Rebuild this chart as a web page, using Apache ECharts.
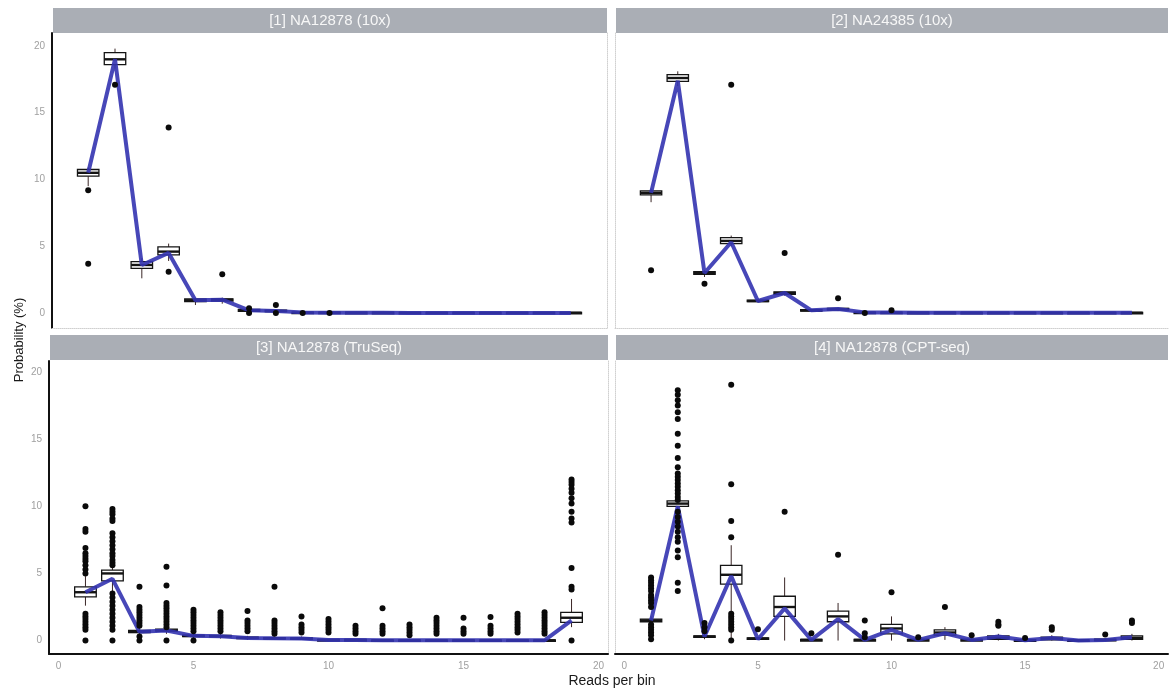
<!DOCTYPE html>
<html>
<head>
<meta charset="utf-8">
<script src="https://cdn.jsdelivr.net/npm/echarts@6/dist/echarts.min.js"></script>
<style>
  html, body { margin: 0; padding: 0; background: #fff; }
  #chart { width: 1170px; height: 691px; }
</style>
</head>
<body>
<div id="chart"></div>
<script>
// reads per bin (x positions of the boxes)
const bins = [1, 2, 3, 4, 5, 6, 7, 8, 9, 10, 11, 12, 13, 14, 15, 16, 17, 18, 19];
const xTicks = [0, 5, 10, 15, 20];
const yTicks = [0, 5, 10, 15, 20];
const panelTitles = ['[1] NA12878 (10x)', '[2] NA24385 (10x)', '[3] NA12878 (TruSeq)', '[4] NA12878 (CPT-seq)'];

// boxes: [min, q1, median, q3, max] per bin
const box1 = [
  [9.5, 10.25, 10.5, 10.75, 10.9], [18.3, 18.6, 19.0, 19.5, 19.8], [2.6, 3.35, 3.6, 3.85, 4.1],
  [3.9, 4.35, 4.6, 4.95, 5.2], [0.6, 0.85, 0.95, 1.05, 1.1], [0.7, 0.9, 1.0, 1.05, 1.15],
  [0.05, 0.12, 0.2, 0.28, 0.35], [0.05, 0.1, 0.15, 0.22, 0.3], [0, 0, 0.03, 0.07, 0.1],
  [0, 0, 0.03, 0.07, 0.1], [0, 0, 0.02, 0.06, 0.1], [0, 0, 0.02, 0.06, 0.1], [0, 0, 0.02, 0.05, 0.08],
  [0, 0, 0.02, 0.05, 0.08], [0, 0, 0.02, 0.05, 0.08], [0, 0, 0.02, 0.05, 0.08], [0, 0, 0.02, 0.05, 0.08],
  [0, 0, 0.02, 0.05, 0.08], [0, 0, 0.02, 0.05, 0.08]
];
const line1 = [10.5, 19.0, 3.6, 4.5, 0.95, 1.0, 0.2, 0.15, 0.05, 0.03, 0.02, 0.02, 0.01, 0.01, 0.01, 0, 0, 0, 0];
const out1 = [[1, 9.2], [1, 3.7], [2, 17.1], [4, 13.9], [4, 3.1], [6, 2.9], [7, 0.35], [7, 0], [8, 0.6], [8, 0], [9, 0], [10, 0]];

const box2 = [
  [8.3, 8.85, 9.0, 9.15, 9.3], [17.0, 17.35, 17.6, 17.85, 18.1], [2.7, 2.9, 3.0, 3.1, 3.2],
  [5.0, 5.2, 5.4, 5.65, 5.8], [0.8, 0.85, 0.9, 0.97, 1.0], [1.3, 1.4, 1.5, 1.58, 1.65],
  [0.1, 0.15, 0.2, 0.25, 0.3], [0.15, 0.22, 0.3, 0.35, 0.4], [0, 0, 0.03, 0.07, 0.1],
  [0, 0, 0.03, 0.07, 0.1], [0, 0, 0.02, 0.06, 0.1], [0, 0, 0.02, 0.06, 0.1], [0, 0, 0.02, 0.05, 0.08],
  [0, 0, 0.02, 0.05, 0.08], [0, 0, 0.02, 0.05, 0.08], [0, 0, 0.02, 0.05, 0.08], [0, 0, 0.02, 0.05, 0.08],
  [0, 0, 0.02, 0.05, 0.08], [0, 0, 0.02, 0.05, 0.08]
];
const line2 = [9.0, 17.4, 3.0, 5.3, 0.9, 1.5, 0.2, 0.3, 0.05, 0.05, 0.03, 0.03, 0.02, 0.02, 0.02, 0.02, 0.02, 0.02, 0.02];
const out2 = [[1, 3.2], [3, 2.2], [4, 17.1], [6, 4.5], [8, 1.1], [9, 0], [10, 0.2]];

const box3 = [
  [2.6, 3.26, 3.6, 4.0, 4.8], [3.6, 4.45, 5.0, 5.25, 5.5], [0.4, 0.6, 0.65, 0.75, 1.0],
  [0.5, 0.7, 0.75, 0.85, 1.0], [0.15, 0.3, 0.35, 0.4, 0.5], [0.15, 0.28, 0.33, 0.38, 0.5],
  [0.05, 0.15, 0.2, 0.25, 0.35], [0.05, 0.12, 0.17, 0.22, 0.3], [0.05, 0.1, 0.15, 0.2, 0.3],
  [0, 0.02, 0.05, 0.08, 0.12], [0, 0.02, 0.05, 0.08, 0.12], [0, 0, 0.02, 0.05, 0.08],
  [0, 0, 0.02, 0.05, 0.08], [0, 0, 0.02, 0.05, 0.08], [0, 0, 0.02, 0.05, 0.08], [0, 0, 0.02, 0.05, 0.08],
  [0, 0, 0.02, 0.05, 0.08], [0, 0, 0.02, 0.05, 0.08], [1.0, 1.35, 1.7, 2.1, 3.1]
];
const line3 = [3.6, 4.6, 0.65, 0.75, 0.35, 0.33, 0.2, 0.17, 0.15, 0.05, 0.05, 0.03, 0.03, 0.02, 0.02, 0.02, 0.02, 0.02, 1.5];
const out3 = [
  [1, 10.0], [1, 8.3], [1, 8.1], [1, 6.9], [1, 6.5], [1, 6.3], [1, 6.1], [1, 5.9], [1, 5.6], [1, 5.3], [1, 5.0],
  [1, 2.0], [1, 1.8], [1, 1.6], [1, 1.4], [1, 1.2], [1, 1.0], [1, 0.8], [1, 0],
  [2, 9.8], [2, 9.6], [2, 9.4], [2, 9.1], [2, 8.9], [2, 8.0], [2, 7.7], [2, 7.4], [2, 7.1], [2, 6.8], [2, 6.5],
  [2, 6.3], [2, 6.0], [2, 5.8], [2, 5.6], [2, 3.5], [2, 3.2], [2, 2.9], [2, 2.6], [2, 2.3], [2, 2.0], [2, 1.7],
  [2, 1.4], [2, 1.1], [2, 0.8], [2, 0],
  [3, 4.0], [3, 2.5], [3, 2.3], [3, 2.1], [3, 1.9], [3, 1.7], [3, 1.5], [3, 1.3], [3, 1.1], [3, 0.3], [3, 0],
  [4, 5.5], [4, 4.1], [4, 2.8], [4, 2.6], [4, 2.4], [4, 2.2], [4, 2.0], [4, 1.8], [4, 1.6], [4, 1.4], [4, 1.2], [4, 1.0], [4, 0],
  [5, 2.3], [5, 2.1], [5, 1.9], [5, 1.7], [5, 1.5], [5, 1.3], [5, 1.1], [5, 0.9], [5, 0.7], [5, 0],
  [6, 2.1], [6, 1.9], [6, 1.7], [6, 1.5], [6, 1.3], [6, 1.1], [6, 0.9], [6, 0.7],
  [7, 2.2], [7, 1.5], [7, 1.3], [7, 1.1], [7, 0.9], [7, 0.7],
  [8, 4.0], [8, 1.5], [8, 1.3], [8, 1.1], [8, 0.9], [8, 0.7], [8, 0.5],
  [9, 1.8], [9, 1.2], [9, 1.0], [9, 0.8], [9, 0.6],
  [10, 1.6], [10, 1.4], [10, 1.2], [10, 1.0], [10, 0.8], [10, 0.6],
  [11, 1.1], [11, 0.9], [11, 0.7], [11, 0.5],
  [12, 2.4], [12, 1.1], [12, 0.9], [12, 0.7], [12, 0.5],
  [13, 1.2], [13, 1.0], [13, 0.8], [13, 0.6], [13, 0.4],
  [14, 1.7], [14, 1.5], [14, 1.3], [14, 1.1], [14, 0.9], [14, 0.7], [14, 0.5],
  [15, 1.7], [15, 0.9], [15, 0.7], [15, 0.5],
  [16, 1.75], [16, 1.1], [16, 0.9], [16, 0.7], [16, 0.5],
  [17, 2.0], [17, 1.8], [17, 1.6], [17, 1.4], [17, 1.2], [17, 1.0], [17, 0.8], [17, 0.6],
  [18, 2.1], [18, 1.9], [18, 1.7], [18, 1.5], [18, 1.3], [18, 1.1], [18, 0.9], [18, 0.7], [18, 0.5],
  [19, 12.0], [19, 11.8], [19, 11.6], [19, 11.3], [19, 11.0], [19, 10.6], [19, 10.2], [19, 9.6], [19, 9.1],
  [19, 8.8], [19, 5.4], [19, 4.0], [19, 3.8], [19, 0]
];

const box4 = [
  [1.2, 1.4, 1.5, 1.6, 1.8], [9.8, 10.0, 10.2, 10.4, 10.6], [0.1, 0.25, 0.3, 0.35, 0.5],
  [0, 4.2, 4.9, 5.6, 7.1], [0.05, 0.1, 0.15, 0.2, 0.25], [0, 1.8, 2.5, 3.3, 4.7],
  [0, 0.02, 0.05, 0.08, 0.12], [0, 1.4, 1.8, 2.2, 2.8], [0, 0.02, 0.05, 0.08, 0.1],
  [0, 0.5, 0.9, 1.2, 1.8], [0, 0.02, 0.05, 0.08, 0.1], [0.05, 0.4, 0.6, 0.8, 1.0],
  [0, 0.02, 0.05, 0.08, 0.1], [0, 0.1, 0.2, 0.35, 0.5], [0, 0.01, 0.03, 0.06, 0.08],
  [0, 0.05, 0.15, 0.25, 0.4], [0, 0, 0.02, 0.05, 0.08], [0, 0.02, 0.05, 0.1, 0.15], [0, 0.1, 0.2, 0.35, 0.5]
];
const line4 = [1.5, 10.0, 0.3, 4.8, 0.1, 2.4, 0.05, 1.6, 0.05, 0.8, 0.05, 0.55, 0.05, 0.3, 0.02, 0.2, 0, 0.05, 0.25];
const out4 = [
  [1, 4.7], [1, 4.5], [1, 4.3], [1, 4.1], [1, 3.9], [1, 3.7], [1, 3.4], [1, 3.2], [1, 3.0], [1, 2.8], [1, 2.5],
  [1, 1.2], [1, 1.0], [1, 0.8], [1, 0.6], [1, 0.4], [1, 0.1],
  [2, 18.65], [2, 18.3], [2, 17.9], [2, 17.5], [2, 17.0], [2, 16.5], [2, 15.4], [2, 14.5], [2, 13.6], [2, 12.9],
  [2, 12.45], [2, 12.2], [2, 11.95], [2, 11.7], [2, 11.45], [2, 11.2], [2, 10.96], [2, 10.7], [2, 10.46],
  [2, 9.6], [2, 9.2], [2, 8.85], [2, 8.5], [2, 8.1], [2, 7.7], [2, 7.36], [2, 6.7], [2, 6.2], [2, 4.3], [2, 3.7],
  [3, 1.3], [3, 1.0], [3, 0.7],
  [4, 19.05], [4, 11.65], [4, 8.9], [4, 7.7], [4, 2.0], [4, 1.8], [4, 1.6], [4, 1.4], [4, 1.2], [4, 1.0], [4, 0.8], [4, 0],
  [5, 0.85], [6, 9.6], [7, 0.55], [8, 6.4], [9, 1.5], [9, 0.55], [9, 0.25], [10, 3.6], [11, 0.25],
  [12, 2.5], [13, 0.4], [14, 1.4], [14, 1.2], [14, 1.1], [15, 0.2], [16, 1.0], [16, 0.8], [18, 0.45], [19, 1.5], [19, 1.3]
];

const boxes = [box1, box2, box3, box4];
const lines = [line1, line2, line3, line4];
const outliers = [out1, out2, out3, out4];

// layout
const grids = [
  {left: 52, top: 33, width: 555, height: 295},
  {left: 615, top: 33, width: 553, height: 295},
  {left: 49, top: 361, width: 559, height: 293},
  {left: 615, top: 361, width: 553, height: 293}
];
const yRanges = [[-1.12, 20.97], [-1.12, 20.97], [-1.0, 20.82], [-1.0, 20.82]];
const fontFamily = '"Liberation Sans", Arial, Helvetica, sans-serif';

function renderBox(params, api) {
  const x = api.value(0);
  const pMin = api.coord([x, api.value(1)]);
  const pQ1 = api.coord([x, api.value(2)]);
  const pMed = api.coord([x, api.value(3)]);
  const pQ3 = api.coord([x, api.value(4)]);
  const pMax = api.coord([x, api.value(5)]);
  const half = api.size([0.4, 0])[0];
  const ink = '#141414';
  return {
    type: 'group',
    children: [
      {type: 'line', shape: {x1: pMin[0], y1: pMin[1], x2: pQ1[0], y2: pQ1[1]}, style: {stroke: '#3a2626', lineWidth: 1}},
      {type: 'line', shape: {x1: pQ3[0], y1: pQ3[1], x2: pMax[0], y2: pMax[1]}, style: {stroke: '#3a2626', lineWidth: 1}},
      {type: 'rect', shape: {x: pQ1[0] - half, y: pQ3[1], width: half * 2, height: Math.max(pQ1[1] - pQ3[1], 1.5)},
        style: {fill: '#fff', stroke: ink, lineWidth: 1.3}},
      {type: 'line', shape: {x1: pMed[0] - half, y1: pMed[1], x2: pMed[0] + half, y2: pMed[1]}, style: {stroke: ink, lineWidth: 2.4}}
    ]
  };
}

const xAxis = [];
const yAxis = [];
const series = [];
const graphic = [];

grids.forEach((g, i) => {
  const bottomRow = i >= 2;
  const leftCol = i % 2 === 0;
  xAxis.push({
    gridIndex: i, type: 'value', min: -0.35, max: 20.35,
    splitLine: {show: false},
    axisTick: {show: false},
    axisLine: {onZero: false, lineStyle: bottomRow ? {color: '#111', width: 2} : {color: '#d0d0d0', width: 1, type: 'dotted'}},
    axisLabel: {show: bottomRow, customValues: xTicks, color: '#a0a0a0', fontSize: 10, margin: 7, fontFamily: fontFamily}
  });
  yAxis.push({
    gridIndex: i, type: 'value', min: yRanges[i][0], max: yRanges[i][1],
    splitLine: {show: false},
    axisTick: {show: false},
    axisLine: {show: true, onZero: false, lineStyle: leftCol ? {color: '#111', width: 2} : {color: '#d0d0d0', width: 1, type: 'dotted'}},
    axisLabel: {show: leftCol, customValues: yTicks, color: '#a0a0a0', fontSize: 10, margin: 7, fontFamily: fontFamily}
  });

  series.push({
    type: 'custom', xAxisIndex: i, yAxisIndex: i, z: 2,
    renderItem: renderBox,
    encode: {x: 0, y: [1, 2, 3, 4, 5]},
    data: bins.map((b, k) => [b].concat(boxes[i][k]))
  });
  series.push({
    type: 'line', xAxisIndex: i, yAxisIndex: i, z: 3,
    symbol: 'none',
    lineStyle: {color: '#3333b0', width: 4, opacity: 0.9},
    data: bins.map((b, k) => [b, lines[i][k]])
  });
  series.push({
    type: 'scatter', xAxisIndex: i, yAxisIndex: i, z: 4,
    symbolSize: 6,
    itemStyle: {color: '#0a0a0a', opacity: 1},
    data: outliers[i]
  });

  const stripTop = bottomRow ? 335 : 8;
  graphic.push({
    type: 'group', left: g.left + 1, top: stripTop,
    children: [
      {type: 'rect', shape: {x: 0, y: 0, width: g.width - 1, height: 25}, style: {fill: '#aaaeb5'}},
      {type: 'text', x: (g.width - 1) / 2, y: 13,
        style: {text: panelTitles[i], fill: '#f7f7f7', font: '15px ' + fontFamily, textAlign: 'center', textVerticalAlign: 'middle'}}
    ]
  });
});

// right-hand dotted borders of the left panels
[0, 2].forEach(i => {
  yAxis.push({
    gridIndex: i, type: 'value', position: 'right', min: yRanges[i][0], max: yRanges[i][1],
    splitLine: {show: false}, axisTick: {show: false}, axisLabel: {show: false},
    axisLine: {show: true, onZero: false, lineStyle: {color: '#d0d0d0', width: 1, type: 'dotted'}}
  });
});

graphic.push({
  type: 'text', x: 612, y: 681,
  style: {text: 'Reads per bin', fill: '#1a1a1a', font: '14px ' + fontFamily, textAlign: 'center', textVerticalAlign: 'middle'}
});
graphic.push({
  type: 'text', x: 19, y: 340, rotation: Math.PI / 2,
  style: {text: 'Probability (%)', fill: '#1a1a1a', font: '13px ' + fontFamily, textAlign: 'center', textVerticalAlign: 'middle'}
});

const chart = echarts.init(document.getElementById('chart'));
chart.setOption({
  backgroundColor: '#ffffff',
  animation: false,
  grid: grids,
  xAxis: xAxis,
  yAxis: yAxis,
  series: series,
  graphic: graphic
});
</script>
</body>
</html>
